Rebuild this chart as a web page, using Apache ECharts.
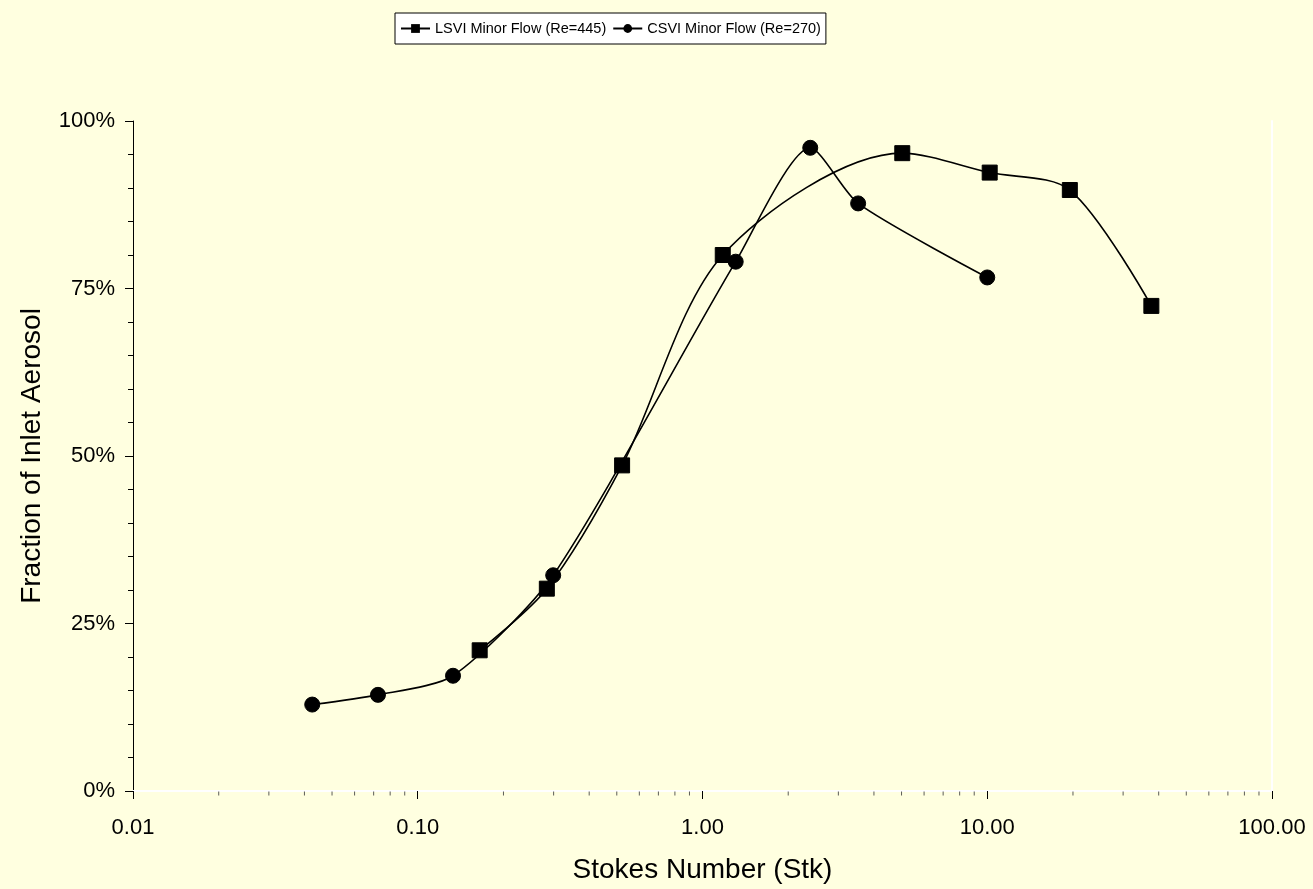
<!DOCTYPE html>
<html>
<head>
<meta charset="utf-8">
<script src="https://cdn.jsdelivr.net/npm/echarts@6/dist/echarts.min.js"></script>
<style>
html,body{margin:0;padding:0;background:#FFFFE0;}
#chart{width:1313px;height:889px;}
</style>
</head>
<body>
<div id="chart"></div>
<script>
// Data
var lsviName = 'LSVI Minor Flow (Re=445)';
var csviName = 'CSVI Minor Flow (Re=270)';
var lsviStk = [0.165, 0.284, 0.522, 1.178, 5.03, 10.2, 19.5, 37.7];
var lsviFrac = [0.210, 0.302, 0.486, 0.800, 0.952, 0.923, 0.897, 0.724];
var csviStk = [0.0426, 0.0725, 0.133, 0.299, 1.308, 2.39, 3.52, 10.0];
var csviFrac = [0.129, 0.1435, 0.172, 0.322, 0.790, 0.960, 0.877, 0.7665];
var xMinorTicks = [];
[0.01, 0.1, 1, 10].forEach(function (d) {
  for (var k = 2; k <= 9; k++) xMinorTicks.push(+(d * k).toPrecision(3));
});

function pairs(xs, ys) { return xs.map(function (x, i) { return [x, ys[i]]; }); }

var FONT = 'Liberation Sans, Arial, sans-serif';
var chart = echarts.init(document.getElementById('chart'), null, {renderer: 'canvas'});
var option = {
  backgroundColor: '#FFFFE0',
  animation: false,
  textStyle: {fontFamily: FONT, color: '#000'},
  legend: {
    data: [lsviName, csviName],
    left: 395, top: 13,
    padding: [8, 5, 8, 5],
    backgroundColor: '#fff',
    borderColor: '#000', borderWidth: 1,
    itemWidth: 29, itemHeight: 11, itemGap: 6,
    textStyle: {fontFamily: FONT, fontSize: 14.5, color: '#000'}
  },
  grid: {left: 133, right: 41, top: 121, bottom: 97},
  xAxis: [{
    type: 'log', logBase: 10, min: 0.01, max: 100,
    name: 'Stokes Number (Stk)', nameLocation: 'middle', nameGap: 65,
    nameTextStyle: {fontFamily: FONT, fontSize: 28, color: '#000'},
    axisLine: {lineStyle: {color: '#000', width: 1}},
    axisTick: {show: true, length: 8, lineStyle: {color: '#000'}},
    axisLabel: {fontFamily: FONT, fontSize: 22, color: '#000', margin: 26,
      formatter: function (v) { return v.toFixed(2); }},
    splitLine: {show: false}
  }, {
    type: 'log', logBase: 10, min: 0.01, max: 100, position: 'top',
    axisLine: {lineStyle: {color: '#fff', width: 2}},
    axisTick: {show: false}, axisLabel: {show: false}, splitLine: {show: false}
  }],
  yAxis: [{
    type: 'value', min: 0, max: 1, interval: 0.25,
    name: 'Fraction of Inlet Aerosol', nameLocation: 'middle', nameGap: 87,
    nameTextStyle: {fontFamily: FONT, fontSize: 28, color: '#000'},
    axisLine: {show: true, lineStyle: {color: '#000', width: 1}},
    axisTick: {show: true, length: 8, lineStyle: {color: '#000'}},
    minorTick: {show: true, splitNumber: 5, length: 5, lineStyle: {color: '#000'}},
    axisLabel: {fontFamily: FONT, fontSize: 22, color: '#000', margin: 18,
      formatter: function (v) { return Math.round(v * 100) + '%'; }},
    splitLine: {show: false}
  }, {
    type: 'value', min: 0, max: 1, position: 'right',
    axisLine: {show: true, lineStyle: {color: '#fff', width: 2}},
    axisTick: {show: false}, axisLabel: {show: false}, splitLine: {show: false}
  }],
  series: [{
    name: lsviName, type: 'line', smooth: 0.3,
    data: pairs(lsviStk, lsviFrac),
    symbol: 'rect', symbolSize: 15,
    lineStyle: {color: '#000', width: 1.6},
    itemStyle: {color: '#000', borderColor: '#000'},
    z: 3
  }, {
    name: csviName, type: 'line', smooth: 0.24,
    data: pairs(csviStk, csviFrac),
    symbol: 'circle', symbolSize: 15,
    lineStyle: {color: '#000', width: 1.6},
    itemStyle: {color: '#000', borderColor: '#000'},
    z: 3
  }, {
    name: 'xMinor', type: 'scatter', silent: true,
    data: xMinorTicks.map(function (v) { return [v, 0]; }),
    symbol: 'rect', symbolSize: [1, 4], symbolOffset: [0, 2.5],
    itemStyle: {color: '#333'}, clip: false, z: 1
  }]
};
chart.setOption(option);
</script>
</body>
</html>
